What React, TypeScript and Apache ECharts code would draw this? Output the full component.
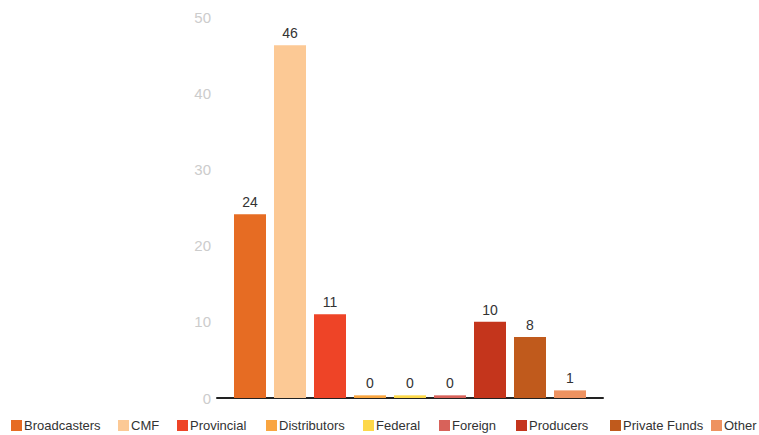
import React, { useEffect, useRef } from "react";
import * as echarts from "echarts";

const seriesNames = ["Broadcasters", "CMF", "Provincial", "Distributors", "Federal", "Foreign", "Producers", "Private Funds", "Other"];
const seriesValues = [24.1, 46.3, 11, 0.35, 0.35, 0.35, 10, 8, 1];
const seriesColors = ["#E66C23", "#FCC995", "#EE4427", "#F9A540", "#FDD84A", "#D8625A", "#C4351C", "#C05A1C", "#EE9260"];
const categories = [""];
const yTicks = { min: 0, max: 50, interval: 10 };

const legendLeft = [11, 118, 177, 266, 363, 439, 516, 610, 711];

const FONT = "'Liberation Sans', Arial, sans-serif";

export default function App() {
  const ref = useRef<HTMLDivElement>(null);
  useEffect(() => {
    if (!ref.current) return;
    const chart = echarts.init(ref.current, undefined, { renderer: "svg" });
    chart.setOption({
      animation: false,
      grid: { left: 217, right: 156, top: 17, bottom: 37, containLabel: false },
      legend: seriesNames.map((name, i) => ({
        top: 419,
        left: legendLeft[i],
        padding: 0,
        itemWidth: 11,
        itemHeight: 11,
        icon: "rect",
        textStyle: { fontFamily: FONT, fontSize: 13, color: "#333", padding: [0, 0, 0, -3] },
        data: [name],
      })),
      xAxis: {
        type: "category",
        data: categories,
        axisLine: { lineStyle: { color: "#222", width: 2 } },
        axisTick: { show: false },
        axisLabel: { show: false },
      },
      yAxis: {
        type: "value",
        min: yTicks.min,
        max: yTicks.max,
        interval: yTicks.interval,
        axisLine: { show: false },
        axisTick: { show: false },
        splitLine: { show: false },
        axisLabel: { color: "#cccccc", fontSize: 15, fontFamily: FONT, margin: 6 },
      },
      series: seriesNames.map((name, i) => ({
        name,
        type: "bar",
        data: [seriesValues[i]],
        barWidth: 32,
        barGap: "25%",
        itemStyle: { color: seriesColors[i] },
        label: {
          show: true,
          position: "top",
          distance: 5,
          color: "#333",
          fontSize: 14,
          fontFamily: FONT,
          formatter: (p: any) => String(Math.round(p.value)),
        },
      })),
    });
    return () => chart.dispose();
  }, []);
  return <div ref={ref} style={{ width: 759, height: 435, position: "absolute", left: 0, top: 0 }} />;
}
